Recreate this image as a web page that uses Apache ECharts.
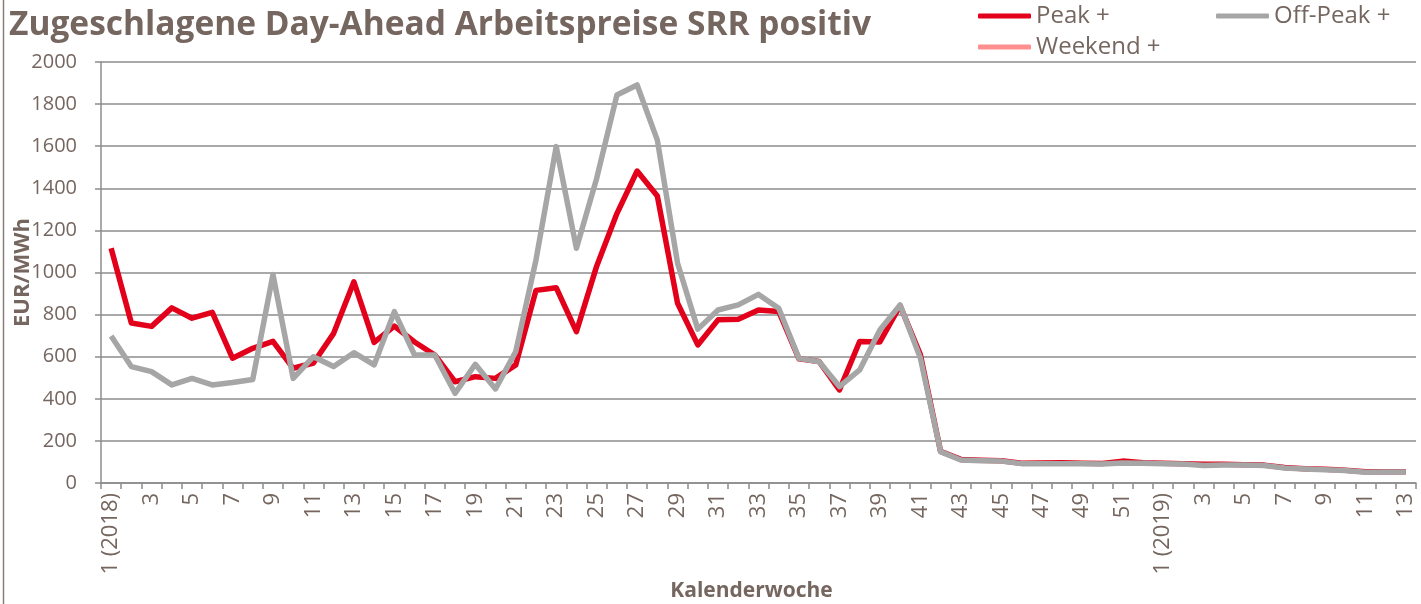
<!DOCTYPE html>
<html>
<head>
<meta charset="utf-8">
<script src="https://cdn.jsdelivr.net/npm/echarts@6/dist/echarts.min.js"></script>
<style>
  html, body { margin: 0; padding: 0; background: #fff; }
  #chart { width: 1421px; height: 604px; }
</style>
</head>
<body>
<div id="chart"></div>
<script>
// Kalenderwochen 2018 (1..52) und 2019 (1..13)
const weeks2018 = [
  '1 (2018)', '2', '3', '4', '5', '6', '7', '8', '9', '10', '11', '12', '13',
  '14', '15', '16', '17', '18', '19', '20', '21', '22', '23', '24', '25', '26',
  '27', '28', '29', '30', '31', '32', '33', '34', '35', '36', '37', '38', '39',
  '40', '41', '42', '43', '44', '45', '46', '47', '48', '49', '50', '51', '52'
];
const weeks2019 = ['1 (2019)', '2', '3', '4', '5', '6', '7', '8', '9', '10', '11', '12', '13'];
const categories = weeks2018.concat(weeks2019);

// EUR/MWh
const peak = [
  1115, 760, 744, 832, 783, 811, 593, 640, 673, 545, 570, 711, 956,
  668, 745, 670, 608, 481, 505, 497, 561, 915, 928, 719, 1030, 1280,
  1482, 1363, 854, 656, 775, 778, 822, 815, 590, 577, 442, 672, 670,
  842, 610, 150, 112, 108, 106, 94, 95, 96, 94, 93, 104, 96,
  94, 91, 89, 89, 87, 85, 74, 68, 65, 60, 54, 54, 54
];
const offPeak = [
  698, 553, 529, 466, 497, 466, 477, 492, 990, 497, 600, 553, 619,
  561, 814, 608, 608, 426, 564, 447, 624, 1059, 1598, 1115, 1447, 1843,
  1891, 1629, 1044, 731, 822, 846, 896, 830, 592, 576, 458, 537, 727,
  846, 594, 149, 109, 106, 104, 92, 92, 92, 92, 90, 95, 94,
  92, 90, 83, 86, 85, 83, 71, 67, 63, 59, 51, 52, 52
];
const weekend = categories.map(() => null);

const yTicks = { min: 0, max: 2000, interval: 200 };

const textColor = '#75665f';
const gridColor = '#8c8c8c';
const font = '"Open Sans", "Noto Sans", sans-serif';

const chart = echarts.init(document.getElementById('chart'), null, { renderer: 'canvas' });

const legendBase = {
  itemWidth: 53,
  itemHeight: 5,
  padding: 0,
  icon: 'roundRect',
  textStyle: { fontFamily: font, fontSize: 24, color: textColor }
};

chart.setOption({
  animation: false,
  backgroundColor: '#fff',
  textStyle: { fontFamily: font, color: textColor },
  title: {
    text: 'Zugeschlagene Day-Ahead Arbeitspreise SRR positiv',
    left: 9,
    top: 8,
    padding: 0,
    textStyle: { fontFamily: font, fontWeight: 'bold', fontSize: 33.5, color: textColor }
  },
  legend: [
    Object.assign({ left: 978, top: 4, data: ['Peak +'] }, legendBase),
    Object.assign({ left: 1216, top: 4, data: ['Off-Peak +'] }, legendBase),
    Object.assign({ left: 978, top: 35, data: ['Weekend +'] }, legendBase)
  ],
  grid: { left: 101, right: 5, top: 62, bottom: 121, containLabel: false, outerBoundsMode: 'none' },
  xAxis: {
    type: 'category',
    data: categories,
    boundaryGap: true,
    name: 'Kalenderwoche',
    nameLocation: 'middle',
    nameGap: 98,
    nameMoveOverlap: false,
    nameTextStyle: { fontFamily: font, fontWeight: 'bold', fontSize: 21, color: textColor, padding: [0, 14, 0, 0] },
    axisLine: { lineStyle: { color: gridColor, width: 1.5 } },
    axisTick: { show: true, interval: 0, length: 6, alignWithLabel: false, lineStyle: { color: gridColor, width: 1.5 } },
    axisLabel: { interval: 1, rotate: 90, fontSize: 22, color: textColor, margin: 10, fontFamily: font },
    splitLine: { show: false }
  },
  yAxis: {
    type: 'value',
    min: yTicks.min,
    max: yTicks.max,
    interval: yTicks.interval,
    name: 'EUR/MWh',
    nameLocation: 'middle',
    nameGap: 67,
    nameMoveOverlap: false,
    nameTextStyle: { fontFamily: font, fontWeight: 'bold', fontSize: 22, color: textColor },
    axisLine: { show: true, lineStyle: { color: gridColor, width: 1.5 } },
    axisTick: { show: true, length: 6, lineStyle: { color: gridColor, width: 1.5 } },
    axisLabel: { fontSize: 20, color: textColor, margin: 24, fontFamily: font, formatter: v => String(v) },
    splitLine: { show: true, lineStyle: { color: gridColor, width: 1.5 } }
  },
  graphic: [
    { type: 'line', shape: { x1: 3.5, y1: 0, x2: 3.5, y2: 604 }, style: { stroke: '#8a7f78', lineWidth: 1.5 } }
  ],
  series: [
    {
      name: 'Weekend +', type: 'line', data: weekend, showSymbol: false, symbol: 'none',
      lineStyle: { color: '#ff8f8f', width: 5.5 }, itemStyle: { color: '#ff8f8f' }
    },
    {
      name: 'Peak +', type: 'line', data: peak, showSymbol: false, symbol: 'none',
      lineStyle: { color: '#e2001a', width: 5.5, join: 'round' }, itemStyle: { color: '#e2001a' }
    },
    {
      name: 'Off-Peak +', type: 'line', data: offPeak, showSymbol: false, symbol: 'none',
      lineStyle: { color: '#a6a6a6', width: 5.5, join: 'round' }, itemStyle: { color: '#a6a6a6' }
    }
  ]
});

window.addEventListener('resize', () => chart.resize());
</script>
</body>
</html>
